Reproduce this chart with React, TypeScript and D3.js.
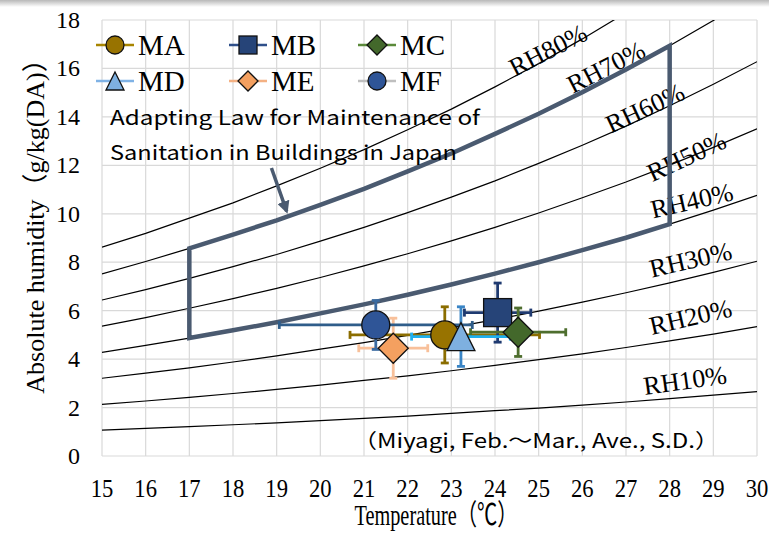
import React from "react";
import * as d3 from "d3";

// temperature steps (°C) for the RH curves
const temps = [15, 16, 17, 18, 19, 20, 21, 22, 23, 24, 25, 26, 27, 28, 29, 30];

// absolute humidity g/kg(DA) along each RH curve
const rh10 = [1.07, 1.14, 1.21, 1.29, 1.37, 1.46, 1.55, 1.65, 1.76, 1.87, 1.98, 2.1, 2.23, 2.37, 2.51, 2.66];
const rh20 = [2.13, 2.27, 2.42, 2.58, 2.75, 2.93, 3.12, 3.31, 3.52, 3.74, 3.98, 4.22, 4.48, 4.75, 5.03, 5.34];
const rh30 = [3.21, 3.42, 3.64, 3.88, 4.13, 4.41, 4.68, 4.98, 5.3, 5.63, 5.98, 6.35, 6.74, 7.15, 7.58, 8.04];
const rh40 = [4.28, 4.57, 4.87, 5.19, 5.52, 5.89, 6.26, 6.66, 7.08, 7.53, 8.0, 8.5, 9.01, 9.57, 10.15, 10.76];
const rh50 = [5.36, 5.71, 6.1, 6.5, 6.92, 7.37, 7.85, 8.35, 8.88, 9.44, 10.03, 10.66, 11.31, 12.01, 12.74, 13.51];
const rh60 = [6.44, 6.87, 7.33, 7.82, 8.32, 8.87, 9.44, 10.05, 10.69, 11.36, 12.08, 12.83, 13.62, 14.46, 15.35, 16.28];
const rh70 = [7.52, 8.03, 8.57, 9.14, 9.73, 10.37, 11.03, 11.75, 12.49, 13.3, 14.13, 15.02, 15.96, 16.94, 17.98, 19.08];
const rh80 = [8.62, 9.19, 9.82, 10.45, 11.15, 11.88, 12.65, 13.47, 14.32, 15.24, 16.2, 17.22, 18.3, 19.44, 20.63, 21.9];
const rhCurves = [rh10, rh20, rh30, rh40, rh50, rh60, rh70, rh80];

// RH curve labels: where they sit (°C, g/kg) and their tilt
const rhLabels = ["RH10%", "RH20%", "RH30%", "RH40%", "RH50%", "RH60%", "RH70%", "RH80%"];
const rhLabelT = [27.43, 27.59, 27.59, 27.62, 27.6, 26.65, 25.78, 24.45];
const rhLabelH = [2.52, 5.0, 7.36, 9.8, 11.3, 13.3, 14.95, 15.65];
const rhLabelAngle = [-8, -13, -13, -13, -25, -25, -27, -27];

// measured rooms: mean and S.D.
const series = ["MA", "MB", "MC", "MD", "ME", "MF"];
const meanTemp = [22.85, 24.06, 24.53, 23.22, 21.67, 21.27];
const meanHum = [5.0, 5.92, 5.11, 4.93, 4.45, 5.41];
const sdTemp = [2.17, 0.76, 1.09, 1.13, 0.79, 2.21];
const sdHum = [1.16, 1.22, 1.0, 1.23, 1.24, 1.01];

const shapes = ["circle", "square", "diamond", "triangle", "diamond", "circle"];
const markerFill = ["#987300", "#264478", "#43682B", "#7EB0E0", "#F4A060", "#2F5597"];
const legendLine = ["#A88500", "#2F4F8A", "#5B8A3A", "#7FB2E5", "#F4B183", "#BFBFBF"];
const barX = ["#8B6D00", "#1F3A70", "#4E6E2E", "#1FB0EE", "#F8C09A", "#2F5D8A"];
const barY = ["#8B6D00", "#1F3A70", "#4E6E2E", "#3A85C6", "#F8C09A", "#3A6AA0"];

const xTicks = d3.range(15, 31);
const yTicks = d3.range(0, 19, 2);

const W = 769;
const H = 533;
const BOX = "#4A5A70";
const serif = "'Liberation Serif', 'Times New Roman', 'Noto Sans CJK JP', serif";
const sans = "'Noto Sans CJK JP', 'Noto Sans', sans-serif";

function Marker({ shape, cx, cy, s, fill }: { shape: string; cx: number; cy: number; s: number; fill: string }) {
  const h = s / 2;
  const common = { fill, stroke: "#111", strokeWidth: 1.3 };
  if (shape === "circle") return <circle cx={cx} cy={cy} r={h} {...common} />;
  if (shape === "square") return <rect x={cx - h} y={cy - h} width={s} height={s} {...common} />;
  if (shape === "diamond")
    return <polygon points={`${cx},${cy - h} ${cx + h},${cy} ${cx},${cy + h} ${cx - h},${cy}`} {...common} />;
  return <polygon points={`${cx},${cy - h} ${cx + h},${cy + h} ${cx - h},${cy + h}`} {...common} />;
}

export default function App() {
  const x = d3.scaleLinear().domain([15, 30]).range([102, 757]);
  const y = d3.scaleLinear().domain([0, 18]).range([456, 20]);

  const curve = d3
    .line<number>()
    .x((_, i) => x(temps[i]))
    .y(d => y(d));

  // maintenance-law range: RH40% .. RH70%, 17 .. 28 °C
  const i0 = temps.indexOf(17);
  const i1 = temps.indexOf(28);
  const boxPts: [number, number][] = [];
  for (let i = i0; i <= i1; i++) boxPts.push([x(temps[i]), y(rh40[i])]);
  for (let i = i1; i >= i0; i--) boxPts.push([x(temps[i]), y(rh70[i])]);
  const boxPath = d3.line()(boxPts) + "Z";

  const cap = 4;

  return (
    <svg
      width={W}
      height={H}
      viewBox={`0 0 ${W} ${H}`}
      style={{ position: "absolute", left: 0, top: 0, background: "#fff" }}
    >
      <defs>
        <linearGradient id="shade" x1="0" y1="0" x2="0" y2="1">
          <stop offset="0" stopColor="#b8b8b8" />
          <stop offset="1" stopColor="#ffffff" />
        </linearGradient>
        <clipPath id="plot">
          <rect x={102} y={20} width={655} height={436} />
        </clipPath>
        <marker id="arrow" viewBox="0 0 10 10" refX="8" refY="5" markerWidth="3.6" markerHeight="3.6" orient="auto">
          <path d="M0,0 L10,5 L0,10 Z" fill={BOX} />
        </marker>
      </defs>
      <rect x={0} y={0} width={W} height={7} fill="url(#shade)" />

      {/* grid */}
      <g stroke="#d9d9d9" strokeWidth={1.2}>
        {xTicks.map(t => (
          <line key={"vx" + t} x1={x(t)} x2={x(t)} y1={y(18)} y2={y(0)} />
        ))}
        {yTicks.map(v => (
          <line key={"hy" + v} x1={x(15)} x2={x(30)} y1={y(v)} y2={y(v)} />
        ))}
      </g>

      {/* RH curves */}
      <g clipPath="url(#plot)" fill="none" stroke="#000" strokeWidth={1.2}>
        {rhCurves.map((c, k) => (
          <path key={"rh" + k} d={curve(c) || ""} />
        ))}
      </g>

      {/* RH labels */}
      <g fontFamily={serif} fontSize={26} fill="#000">
        {rhLabels.map((l, k) => (
          <text key={l} transform={`translate(${x(rhLabelT[k])},${y(rhLabelH[k])}) rotate(${rhLabelAngle[k]})`}>
            {l}
          </text>
        ))}
      </g>

      {/* law range box and arrow */}
      <path d={boxPath} fill="none" stroke={BOX} strokeWidth={4.5} strokeLinejoin="miter" />
      <line
        x1={x(18.88)}
        y1={y(11.89)}
        x2={x(19.23)}
        y2={y(10.1)}
        stroke={BOX}
        strokeWidth={3.5}
        markerEnd="url(#arrow)"
      />
      <g fontFamily={sans} fontSize={20} fill="#000">
        <text x={110} y={125} textLength={370} lengthAdjust="spacingAndGlyphs">
          Adapting Law for Maintenance of
        </text>
        <text x={110} y={160} textLength={347} lengthAdjust="spacingAndGlyphs">
          Sanitation in Buildings in Japan
        </text>
        <text x={353} y={448} textLength={366} lengthAdjust="spacingAndGlyphs">
          （Miyagi, Feb.～Mar., Ave., S.D.）
        </text>
      </g>

      {/* error bars */}
      <g strokeWidth={2.8}>
        {series.map((s, k) => {
          const cx = x(meanTemp[k]);
          const cy = y(meanHum[k]);
          const xl = x(meanTemp[k] - sdTemp[k]);
          const xr = x(meanTemp[k] + sdTemp[k]);
          const yt = y(meanHum[k] + sdHum[k]);
          const yb = y(meanHum[k] - sdHum[k]);
          return (
            <g key={"err" + s}>
              <g stroke={barX[k]}>
                <line x1={xl} x2={xr} y1={cy} y2={cy} />
                <line x1={xl} x2={xl} y1={cy - cap} y2={cy + cap} />
                <line x1={xr} x2={xr} y1={cy - cap} y2={cy + cap} />
              </g>
              <g stroke={barY[k]}>
                <line x1={cx} x2={cx} y1={yt} y2={yb} />
                <line x1={cx - cap} x2={cx + cap} y1={yt} y2={yt} />
                <line x1={cx - cap} x2={cx + cap} y1={yb} y2={yb} />
              </g>
            </g>
          );
        })}
      </g>

      {/* markers */}
      {[5, 0, 1, 2, 3, 4].map(k => (
        <Marker
          key={"m" + series[k]}
          shape={shapes[k]}
          cx={x(meanTemp[k])}
          cy={y(meanHum[k])}
          s={shapes[k] === "diamond" ? 30 : 28}
          fill={markerFill[k]}
        />
      ))}

      {/* legend */}
      <g fontFamily={serif} fontSize={29} fill="#000">
        {series.map((s, k) => {
          const lx = [96, 229, 358][k % 3];
          const ly = [45, 81][Math.floor(k / 3)];
          return (
            <g key={"lg" + s}>
              <line x1={lx} x2={lx + 38} y1={ly} y2={ly} stroke={legendLine[k]} strokeWidth={2.5} />
              <Marker shape={shapes[k]} cx={lx + 19} cy={ly} s={shapes[k] === "diamond" ? 20 : 18} fill={markerFill[k]} />
              <text x={lx + 42} y={ly + 10}>
                {s}
              </text>
            </g>
          );
        })}
      </g>

      {/* axes labels */}
      <g fontFamily={serif} fill="#000">
        {yTicks.map(v => (
          <text key={"yt" + v} x={80} y={y(v) + 8} fontSize={24} textAnchor="end">
            {v}
          </text>
        ))}
        {xTicks.map(t => (
          <text key={"xt" + t} transform={`translate(${x(t)},497) scale(0.87,1)`} fontSize={26} textAnchor="middle">
            {t}
          </text>
        ))}
        <text transform="translate(436,525) scale(0.7,1)" fontSize={29} textAnchor="middle">
          Temperature（℃）
        </text>
        <text transform="translate(44,220) rotate(-90)" fontSize={26} textAnchor="middle">
          Absolute humidity（g/kg(DA)）
        </text>
      </g>
    </svg>
  );
}
